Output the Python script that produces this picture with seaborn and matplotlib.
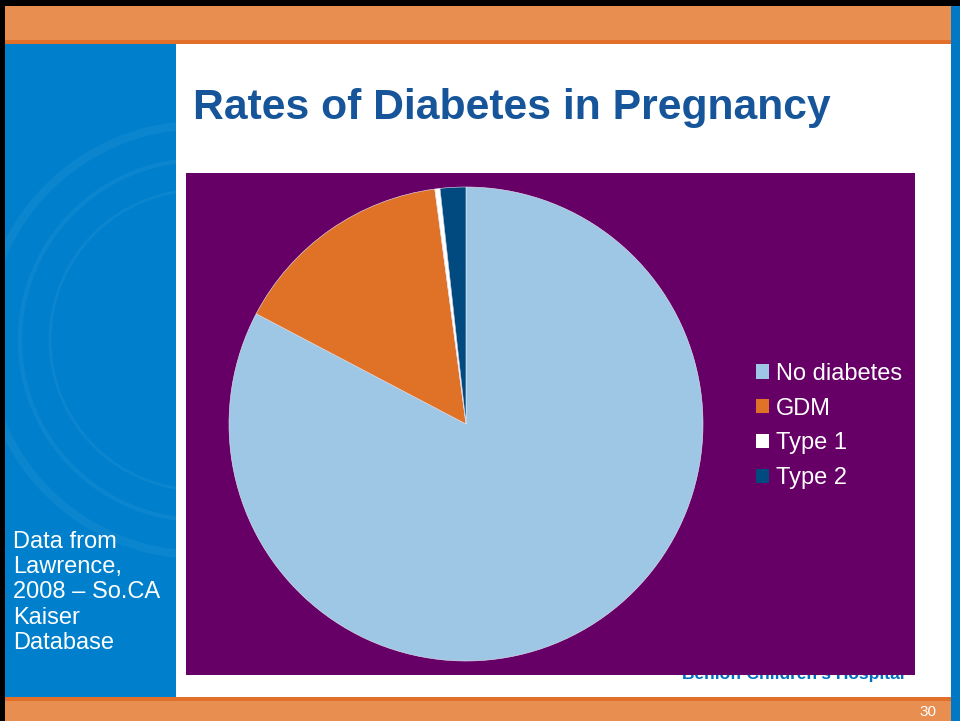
import matplotlib
matplotlib.use("Agg")
import matplotlib.pyplot as plt
from matplotlib.patches import Rectangle, Patch, Circle
import seaborn as sns

# ---- data ----
categories = ["No diabetes", "GDM", "Type 1", "Type 2"]
shares = [82.7, 15.2, 0.35, 1.75]
slice_colors = ["#9DC7E5", "#E07228", "#FFFFFF", "#004A7F"]
title_text = "Rates of Diabetes in Pregnancy"
side_note = "Data from\nLawrence,\n2008 \u2013 So.CA\nKaiser\nDatabase"
page_number = "30"

sns.set_style("white")
plt.rcParams["font.family"] = ["Liberation Sans", "DejaVu Sans"]
palette = sns.color_palette(slice_colors)

W, H = 960, 721
fig = plt.figure(figsize=(W / 100, H / 100), dpi=100)

# background slide layer in pixel coordinates
bg = fig.add_axes([0, 0, 1, 1])
bg.set_xlim(0, W)
bg.set_ylim(H, 0)
bg.axis("off")

def rect(x0, y0, x1, y1, color, z=0, **kw):
    r = Rectangle((x0, y0), x1 - x0, y1 - y0, facecolor=color, edgecolor="none", zorder=z, **kw)
    bg.add_patch(r)
    return r

rect(0, 0, W, H, "white", 0)
rect(0, 0, W, 6, "black", 1)
rect(0, 0, 5, H, "black", 1)
rect(5, 6, 951, 40, "#E88E50", 1)
rect(5, 40, 951, 44, "#E2702A", 1)
rect(951, 6, W, H, "#0078C4", 1)
side = rect(5, 44, 176, 697, "#0080CC", 1)
rect(5, 697, 951, 701, "#E2702A", 1)
rect(5, 701, 951, H, "#E88E50", 1)

# faint seal watermark in sidebar
for (cx, cy, rr, lw) in [(200, 340, 215, 6), (200, 340, 180, 3), (200, 340, 150, 2)]:
    c = Circle((cx, cy), rr, facecolor="none", edgecolor="#2A92D6", lw=lw, zorder=1.5, alpha=0.3)
    bg.add_patch(c)
    c.set_clip_path(side)

# footer logo text (mostly hidden under plot area)
bg.text(905, 679.5, "Benioff Children's Hospital", color="#0070C0", fontsize=12.5,
        fontweight="bold", ha="right", va="baseline", zorder=2)

# plot area
rect(186, 173, 915, 675, "#660066", 3)

# title
bg.text(193, 119, title_text, color="#17559A", fontsize=30.7, fontweight="bold",
        ha="left", va="baseline", zorder=4)

# side note
bg.text(13, 531, side_note, color="white", fontsize=17, ha="left", va="top",
        linespacing=1.19, zorder=4)

# page number
bg.text(936, 712, page_number, color="white", fontsize=11, ha="right", va="center", zorder=4)

# pie
cx, cy, R = 466, 424, 237
ax = fig.add_axes([(cx - R) / W, (H - cy - R) / H, 2 * R / W, 2 * R / H])
ax.pie(shares, colors=palette, startangle=90, counterclock=False, radius=1,
       wedgeprops=dict(linewidth=0.4, edgecolor="#E8E8F0"))
ax.set_xlim(-1, 1)
ax.set_ylim(-1, 1)
ax.set_aspect("equal")
ax.axis("off")

handles = [Patch(facecolor=c, edgecolor="none") for c in palette]
leg = fig.legend(handles, categories, loc="center left",
                 bbox_to_anchor=(756 / W, 1 - 426 / H), frameon=False,
                 fontsize=17, labelcolor="white", handlelength=0.55, handleheight=0.55,
                 handletextpad=0.3, labelspacing=0.54, borderaxespad=0, borderpad=0)

fig.savefig("out.png", dpi=100)
